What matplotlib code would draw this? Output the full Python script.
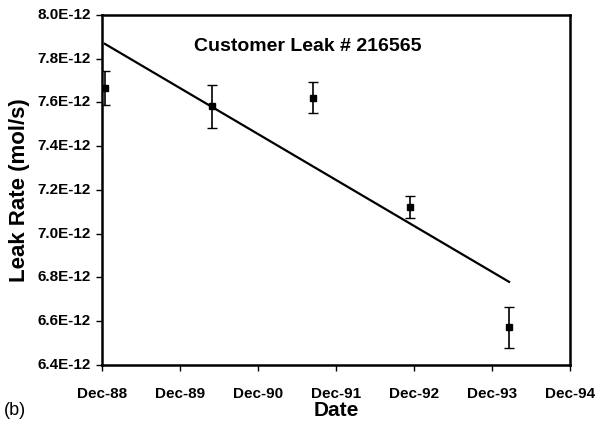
import matplotlib
matplotlib.use("Agg")
import matplotlib.pyplot as plt
import matplotlib.dates as mdates
from matplotlib.ticker import FuncFormatter, MultipleLocator
from datetime import datetime

plt.rcParams['font.family'] = ['Liberation Sans', 'DejaVu Sans']

# Data
dates = [datetime(1988, 12, 16), datetime(1990, 5, 2), datetime(1991, 8, 15),
         datetime(1992, 11, 12), datetime(1994, 2, 19)]
leak_rate = [7.665e-12, 7.582e-12, 7.622e-12, 7.121e-12, 6.572e-12]
leak_err = [0.078e-12, 0.100e-12, 0.070e-12, 0.050e-12, 0.095e-12]
trend_dates = [datetime(1988, 12, 16), datetime(1994, 2, 19)]
trend_values = [7.868e-12, 6.780e-12]
tick_dates = [datetime(y, 12, 1) for y in range(1988, 1995)]
title = "Customer Leak # 216565"

fig = plt.figure(figsize=(6, 4.25), dpi=100)
ax = fig.add_axes([0.1695, 0.1412, 0.7805, 0.8235])

ax.plot(trend_dates, trend_values, color='black', lw=1.6)
ax.errorbar(dates, leak_rate, yerr=leak_err, fmt='s', color='black',
            ms=5, ecolor='black', elinewidth=1.2, capsize=3.5, capthick=1.0)

ax.set_xlim(tick_dates[0], tick_dates[-1])
ax.set_ylim(6.4e-12, 8.0e-12)
ax.set_xticks(tick_dates)
ax.xaxis.set_major_formatter(mdates.DateFormatter('%b-%y'))
ax.yaxis.set_major_locator(MultipleLocator(0.2e-12))
ax.yaxis.set_major_formatter(FuncFormatter(lambda v, p: f"{v*1e12:.1f}E-12"))

for s in ax.spines.values():
    s.set_linewidth(1.8)
ax.tick_params(direction='out', length=4, width=1.0, labelsize=11)
for lab in ax.get_xticklabels() + ax.get_yticklabels():
    lab.set_fontweight('bold')
for lab in ax.get_yticklabels():
    lab.set_verticalalignment('center')
ax.tick_params(axis='x', pad=12)
ax.tick_params(axis='y', pad=4)

ax.set_xlabel('Date', fontsize=15, fontweight='bold', labelpad=0)
ax.set_ylabel('Leak Rate (mol/s)', fontsize=16, fontweight='bold', labelpad=5)
ax.text(0.44, 0.91, title, transform=ax.transAxes, ha='center', va='center',
        fontsize=14, fontweight='bold')
fig.text(0.006, 0.035, '(b)', fontsize=13, ha='left', va='center')

fig.savefig('out.png', dpi=100)
